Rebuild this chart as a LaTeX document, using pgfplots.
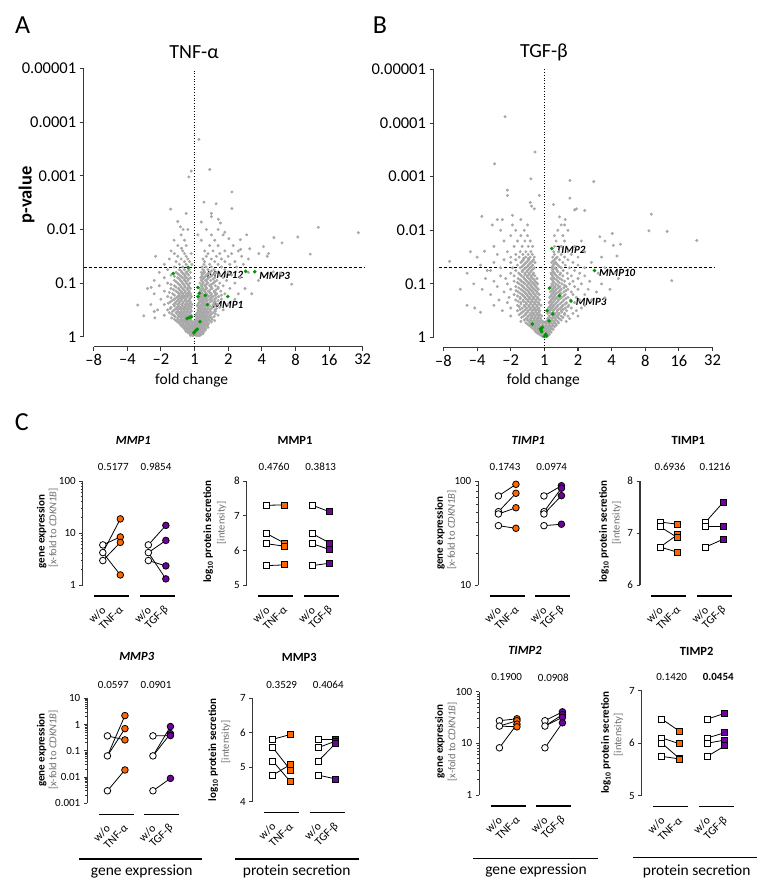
\documentclass[border=0pt]{standalone}
\usepackage{fontspec}
\setmainfont{Carlito}
\usepackage{pgfplots}
\pgfplotsset{compat=1.18}
\definecolor{vgray}{RGB}{168,168,168}
\definecolor{vgreen}{RGB}{0,150,0}
\definecolor{orng}{RGB}{255,102,0}
\definecolor{purp}{RGB}{112,0,160}
\definecolor{axc}{RGB}{55,55,55}
\definecolor{lgray}{RGB}{110,110,110}
\newcommand{\fs}[1]{\fontsize{#1}{#1}\selectfont}
\tikzset{xl/.style={rotate=45, anchor=east, font=\fs{11.5}, inner sep=0pt},
  ctr/.style={inner sep=0pt, anchor=center}}
\pgfplotsset{
 volcano/.style={scale only axis, width=269pt, height=268pt, xmin=-3, xmax=5, ymin=0, ymax=5,
  anchor=south west, clip=false,
  axis x line*=bottom, axis y line*=left, axis x line shift=10pt, axis y line shift=10pt,
  axis line style={axc, line width=1.3pt},
  tick align=outside, major tick length=4pt, tick style={axc, line width=1.1pt},
  xtick={-3,...,5}, xticklabels={--8,--4,--2,1,2,4,8,16,32},
  ytick={0,...,5}, yticklabels={1,0.1,0.01,0.001,0.0001,0.00001},
  tick label style={font=\fs{16.5}}},
 gdots/.style={only marks, mark=*, mark size=1.3pt, color=vgray},
 small/.style={scale only axis, width=95.4pt, height=104pt, xmin=-1.15, xmax=4.3,
  anchor=south west, clip=false, axis y line*=left, axis x line=none,
  axis line style={axc, line width=1.2pt},
  tick align=outside, major tick length=3.5pt, minor tick length=2pt,
  tick style={axc, line width=0.9pt}, xtick=\empty,
  tick label style={font=\fs{11}}},
 wo/.style={only marks, mark=*, mark size=3.3pt, mark options={fill=white, draw=black, line width=0.8pt}},
 tc/.style={only marks, mark=*, mark size=3.3pt, mark options={fill=orng, draw=black, line width=0.8pt}},
 gc/.style={only marks, mark=*, mark size=3.3pt, mark options={fill=purp, draw=black, line width=0.8pt}},
 wos/.style={only marks, mark=square*, mark size=3pt, mark options={fill=white, draw=black, line width=0.8pt}},
 ts/.style={only marks, mark=square*, mark size=3pt, mark options={fill=orng, draw=black, line width=0.8pt}},
 gs/.style={only marks, mark=square*, mark size=3pt, mark options={fill=purp, draw=black, line width=0.8pt}},
}
\newcommand{\seg}[4]{\addplot[black, line width=0.8pt] coordinates {(#1,#2) (#3,#4)};}
\newcommand{\grp}[1]{%
 \draw[black, line width=1.2pt] ([yshift=-11pt]axis cs:-0.5,#1) -- ([yshift=-11pt]axis cs:1.5,#1);
 \draw[black, line width=1.2pt] ([yshift=-11pt]axis cs:2.1,#1) -- ([yshift=-11pt]axis cs:4.1,#1);
 \node[xl] at ([shift={(1pt,-23pt)}]axis cs:0,#1) {w/o};
 \node[xl] at ([shift={(1pt,-23pt)}]axis cs:1,#1) {TNF-α};
 \node[xl] at ([shift={(1pt,-23pt)}]axis cs:2.6,#1) {w/o};
 \node[xl] at ([shift={(1pt,-23pt)}]axis cs:3.6,#1) {TGF-β};
}
\begin{document}
\begin{tikzpicture}[x=1pt,y=1pt]
\useasboundingbox (0,0) rectangle (775,892);
% panel letters
\node[ctr, font=\fs{26}] at (22.7,867) {A};
\node[ctr, font=\fs{26}] at (380,867) {B};
\node[ctr, font=\fs{26}] at (21.7,470.3) {C};
% ---------------- A ----------------
\begin{axis}[volcano, at={(93.7pt,555.3pt)}]
\addplot[gdots] coordinates {
(-0.05,0.02)(0.05,0.02)(0.1,0.02)(0.15,0.02)(-0.12,0.02)
(-0.15,0.06)(-0.08,0.06)(0.0,0.06)(0.08,0.06)(0.18,0.06)(0.25,0.06)
(-0.25,0.10)(-0.18,0.10)(-0.1,0.10)(-0.02,0.10)(0.06,0.10)(0.12,0.10)(0.2,0.10)(0.28,0.10)
(-0.3,0.15)(-0.22,0.15)(-0.14,0.15)(-0.06,0.15)(0.03,0.15)(0.1,0.15)(0.17,0.15)(0.24,0.15)(0.32,0.15)
(-0.38,0.20)(-0.3,0.20)(-0.2,0.20)(-0.12,0.20)(-0.04,0.20)(0.05,0.20)(0.13,0.20)(0.2,0.20)(0.28,0.20)(0.36,0.20)
(-0.45,0.25)(-0.35,0.25)(-0.25,0.25)(-0.17,0.25)(-0.08,0.25)(0.0,0.25)(0.08,0.25)(0.16,0.25)(0.24,0.25)(0.33,0.25)(0.42,0.25)
(-0.55,0.30)(-0.44,0.30)(-0.34,0.30)(-0.26,0.30)(-0.18,0.30)(-0.1,0.30)(0.02,0.30)(0.1,0.30)(0.18,0.30)(0.26,0.30)(0.35,0.30)(0.45,0.30)(0.6,0.30)
(-0.68,0.35)(-0.5,0.35)(-0.4,0.35)(-0.3,0.35)(-0.22,0.35)(-0.13,0.35)(0.06,0.35)(0.14,0.35)(0.22,0.35)(0.3,0.35)(0.38,0.35)(0.5,0.35)
(-0.9,0.40)(-0.62,0.40)(-0.48,0.40)(-0.38,0.40)(-0.28,0.40)(-0.2,0.40)(-0.1,0.40)(0.04,0.40)(0.12,0.40)(0.2,0.40)(0.28,0.40)(0.36,0.40)(0.46,0.40)(0.7,0.40)
(-0.75,0.45)(-0.55,0.45)(-0.45,0.45)(-0.35,0.45)(-0.25,0.45)(-0.15,0.45)(0.08,0.45)(0.16,0.45)(0.24,0.45)(0.32,0.45)(0.42,0.45)(0.55,0.45)
(-1.1,0.50)(-0.8,0.50)(-0.6,0.50)(-0.5,0.50)(-0.4,0.50)(-0.32,0.50)(-0.22,0.50)(-0.12,0.50)(0.1,0.50)(0.18,0.50)(0.27,0.50)(0.35,0.50)(0.45,0.50)(0.6,0.50)(0.85,0.50)
(-0.7,0.55)(-0.52,0.55)(-0.42,0.55)(-0.3,0.55)(-0.2,0.55)(-0.1,0.55)(0.12,0.55)(0.2,0.55)(0.3,0.55)(0.4,0.55)(0.52,0.55)(0.75,0.55)
(-1.3,0.60)(-0.9,0.60)(-0.62,0.60)(-0.5,0.60)(-0.38,0.60)(-0.28,0.60)(-0.18,0.60)(-0.08,0.60)(0.1,0.60)(0.2,0.60)(0.28,0.60)(0.4,0.60)(0.55,0.60)(0.68,0.60)(1.0,0.60)
(-0.72,0.65)(-0.55,0.65)(-0.44,0.65)(-0.33,0.65)(-0.22,0.65)(-0.12,0.65)(0.15,0.65)(0.24,0.65)(0.34,0.65)(0.48,0.65)(0.62,0.65)
(-1.0,0.70)(-0.6,0.70)(-0.48,0.70)(-0.38,0.70)(-0.27,0.70)(-0.15,0.70)(0.12,0.70)(0.22,0.70)(0.32,0.70)(0.45,0.70)(0.6,0.70)(0.8,0.70)(1.2,0.70)
(-0.8,0.75)(-0.5,0.75)(-0.4,0.75)(-0.3,0.75)(-0.2,0.75)(-0.1,0.75)(0.2,0.75)(0.3,0.75)(0.42,0.75)(0.55,0.75)(0.72,0.75)
(-1.2,0.80)(-0.65,0.80)(-0.45,0.80)(-0.34,0.80)(-0.22,0.80)(-0.12,0.80)(0.14,0.80)(0.24,0.80)(0.36,0.80)(0.5,0.80)(0.66,0.80)(0.9,0.80)(1.3,0.80)
(-0.9,0.85)(-0.55,0.85)(-0.4,0.85)(-0.28,0.85)(-0.16,0.85)(0.18,0.85)(0.28,0.85)(0.4,0.85)(0.58,0.85)(0.78,0.85)
(-1.4,0.90)(-0.7,0.90)(-0.48,0.90)(-0.35,0.90)(-0.22,0.90)(-0.12,0.90)(0.15,0.90)(0.25,0.90)(0.36,0.90)(0.52,0.90)(0.7,0.90)(1.05,0.90)(1.5,0.90)
(-1.05,0.95)(-0.6,0.95)(-0.42,0.95)(-0.3,0.95)(-0.18,0.95)(0.2,0.95)(0.3,0.95)(0.45,0.95)(0.62,0.95)(0.85,0.95)
(-0.8,1.00)(-0.5,1.00)(-0.36,1.00)(-0.24,1.00)(-0.14,1.00)(0.16,1.00)(0.26,1.00)(0.4,1.00)(0.56,1.00)(0.75,1.00)(1.2,1.00)
(-1.2,1.05)(-0.6,1.05)(-0.42,1.05)(-0.3,1.05)(-0.2,1.05)(0.2,1.05)(0.32,1.05)(0.48,1.05)(0.66,1.05)(0.95,1.05)
(-0.9,1.10)(-0.5,1.10)(-0.36,1.10)(-0.24,1.10)(-0.12,1.10)(0.18,1.10)(0.28,1.10)(0.42,1.10)(0.6,1.10)(0.85,1.10)(1.35,1.10)
(-0.7,1.15)(-0.45,1.15)(-0.3,1.15)(-0.18,1.15)(0.22,1.15)(0.35,1.15)(0.52,1.15)(0.75,1.15)(1.1,1.15)
(-1.05,1.20)(-0.55,1.20)(-0.38,1.20)(-0.25,1.20)(-0.12,1.20)(0.2,1.20)(0.3,1.20)(0.45,1.20)(0.65,1.20)(1.0,1.20)(1.6,1.20)
(-0.8,1.25)(-0.45,1.25)(-0.3,1.25)(-0.16,1.25)(0.25,1.25)(0.4,1.25)(0.58,1.25)(0.9,1.25)
(-0.6,1.30)(-0.35,1.30)(-0.2,1.30)(0.22,1.30)(0.34,1.30)(0.5,1.30)(0.8,1.30)(1.25,1.30)
(-0.9,1.35)(-0.45,1.35)(-0.25,1.35)(-0.08,1.35)(0.28,1.35)(0.45,1.35)(0.7,1.35)(1.05,1.35)(1.45,1.35)
(-0.55,1.40)(-0.3,1.40)(-0.15,1.40)(0.3,1.40)(0.6,1.40)(0.9,1.40)(1.2,1.40)
(-0.75,1.45)(-0.4,1.45)(-0.2,1.45)(0.25,1.45)(0.5,1.45)(0.8,1.45)(1.6,1.45)
(-1.16,1.50)(-0.5,1.50)(-0.25,1.50)(0.35,1.50)(0.65,1.50)(1.0,1.50)(1.4,1.50)(2.16,1.50)
(-0.6,1.55)(-0.3,1.55)(-0.1,1.55)(0.4,1.55)(0.75,1.55)(1.1,1.55)(1.91,1.55)
(-0.7,1.60)(-0.35,1.60)(0.3,1.60)(0.55,1.60)(0.9,1.60)(1.3,1.60)(1.64,1.64)
(-0.5,1.70)(-0.25,1.70)(0.45,1.70)(0.7,1.70)(1.15,1.70)(2.05,1.68)
(-0.61,1.80)(-0.3,1.80)(0.2,1.80)(0.6,1.80)(1.36,1.81)(1.02,1.83)
(-0.4,1.90)(0.1,1.90)(0.5,1.90)(0.85,1.90)
(-0.34,2.00)(-0.2,2.00)(0.35,2.00)(0.7,2.00)
(0.13,3.68)(-0.10,3.09)(-0.17,2.98)(0.45,3.12)(1.11,2.70)(0.28,2.51)(0.64,2.48)(-0.71,2.38)(1.11,2.39)
(0.50,2.30)(0.5,2.24)(0.71,2.19)(0.77,2.12)(0.2,2.14)(3.68,2.04)(4.87,1.94)(3.07,1.86)(2.36,1.85)(2.6,1.75)
(-0.42,2.05)(-0.39,1.65)(3.44,1.54)(1.37,1.63)(2.89,0.98)(-1.29,0.92)(-1.69,0.59)(-1.51,0.39)(-1.2,0.47)
(-1.18,0.35)(2.56,1.18)(2.34,1.21)(1.9,1.05)(1.7,0.8)(-0.5,2.15)(-0.25,2.3)(0.9,1.95)(1.55,1.9)(2.2,1.55)
};
\addplot[gdots] coordinates {
(-0.1,0.04)(0.02,0.04)(0.12,0.04)(0.2,0.04)
(-0.2,0.08)(-0.12,0.08)(-0.04,0.08)(0.04,0.08)(0.14,0.08)(0.22,0.08)
(-0.28,0.125)(-0.2,0.125)(-0.12,0.125)(-0.04,0.125)(0.04,0.125)(0.1,0.125)(0.16,0.125)(0.24,0.125)(0.32,0.125)
(-0.34,0.175)(-0.26,0.175)(-0.17,0.175)(-0.09,0.175)(0.0,0.175)(0.07,0.175)(0.15,0.175)(0.22,0.175)(0.3,0.175)(0.4,0.175)
(-0.42,0.225)(-0.34,0.225)(-0.25,0.225)(-0.16,0.225)(-0.08,0.225)(0.01,0.225)(0.09,0.225)(0.17,0.225)(0.25,0.225)(0.32,0.225)(0.4,0.225)
(-0.5,0.275)(-0.4,0.275)(-0.3,0.275)(-0.22,0.275)(-0.13,0.275)(-0.04,0.275)(0.05,0.275)(0.13,0.275)(0.21,0.275)(0.29,0.275)(0.38,0.275)(0.5,0.275)
(-0.6,0.325)(-0.49,0.325)(-0.39,0.325)(-0.3,0.325)(-0.21,0.325)(-0.13,0.325)(0.09,0.325)(0.16,0.325)(0.24,0.325)(0.33,0.325)(0.42,0.325)(0.52,0.325)
(-0.58,0.375)(-0.45,0.375)(-0.35,0.375)(-0.26,0.375)(-0.17,0.375)(-0.08,0.375)(0.1,0.375)(0.18,0.375)(0.26,0.375)(0.34,0.375)(0.44,0.375)(0.58,0.375)
(-0.68,0.425)(-0.52,0.425)(-0.42,0.425)(-0.32,0.425)(-0.23,0.425)(-0.14,0.425)(0.06,0.425)(0.14,0.425)(0.22,0.425)(0.3,0.425)(0.39,0.425)(0.5,0.425)(0.62,0.425)
(-0.65,0.475)(-0.5,0.475)(-0.4,0.475)(-0.3,0.475)(-0.2,0.475)(-0.1,0.475)(0.12,0.475)(0.2,0.475)(0.28,0.475)(0.37,0.475)(0.47,0.475)(0.62,0.475)
(-0.72,0.525)(-0.55,0.525)(-0.45,0.525)(-0.36,0.525)(-0.27,0.525)(-0.17,0.525)(0.14,0.525)(0.22,0.525)(0.31,0.525)(0.4,0.525)(0.5,0.525)(0.65,0.525)
(-0.6,0.575)(-0.47,0.575)(-0.36,0.575)(-0.25,0.575)(-0.15,0.575)(0.08,0.575)(0.16,0.575)(0.25,0.575)(0.34,0.575)(0.46,0.575)(0.6,0.575)
(-0.78,0.625)(-0.58,0.625)(-0.46,0.625)(-0.35,0.625)(-0.24,0.625)(-0.14,0.625)(0.12,0.625)(0.22,0.625)(0.3,0.625)(0.42,0.625)(0.58,0.625)
(-0.66,0.675)(-0.5,0.675)(-0.4,0.675)(-0.28,0.675)(-0.18,0.675)(0.18,0.675)(0.27,0.675)(0.38,0.675)(0.52,0.675)(0.7,0.675)
(-0.7,0.725)(-0.55,0.725)(-0.44,0.725)(-0.34,0.725)(-0.24,0.725)(-0.12,0.725)(0.16,0.725)(0.26,0.725)(0.36,0.725)(0.5,0.725)(0.64,0.725)
(-0.6,0.775)(-0.46,0.775)(-0.36,0.775)(-0.26,0.775)(-0.16,0.775)(0.18,0.775)(0.28,0.775)(0.38,0.775)(0.48,0.775)(0.62,0.775)(0.8,0.775)
(-0.75,0.825)(-0.5,0.825)(-0.38,0.825)(-0.28,0.825)(-0.18,0.825)(0.2,0.825)(0.32,0.825)(0.45,0.825)(0.6,0.825)
(-0.62,0.875)(-0.45,0.875)(-0.32,0.875)(-0.2,0.875)(0.22,0.875)(0.32,0.875)(0.46,0.875)(0.64,0.875)
(-0.55,0.925)(-0.4,0.925)(-0.28,0.925)(-0.16,0.925)(0.22,0.925)(0.34,0.925)(0.5,0.925)(0.7,0.925)
(-0.7,0.975)(-0.46,0.975)(-0.32,0.975)(-0.2,0.975)(0.22,0.975)(0.35,0.975)(0.5,0.975)
(-0.55,1.025)(-0.38,1.025)(-0.26,1.025)(0.24,1.025)(0.36,1.025)(0.6,1.025)
(-0.45,1.075)(-0.3,1.075)(-0.18,1.075)(0.24,1.075)(0.38,1.075)(0.55,1.075)
(-0.6,1.125)(-0.4,1.125)(-0.28,1.125)(0.22,1.125)(0.32,1.125)(0.48,1.125)
(-0.5,1.175)(-0.34,1.175)(-0.22,1.175)(0.26,1.175)(0.4,1.175)(0.6,1.175)
(-0.4,1.225)(-0.2,1.225)(0.28,1.225)(0.5,1.225)
};
\addplot[only marks, mark=*, mark size=1.6pt, color=vgreen] coordinates {
(-0.635,1.18)(-0.19,1.29)(1.52,1.22)(1.79,1.21)(0.10,0.92)(0.14,0.81)(0.10,0.75)(0.32,0.77)(0.99,0.75)
(0.38,0.60)(-0.22,0.34)(-0.15,0.36)(-0.10,0.37)(0.16,0.28)(0.0,0.09)(0.04,0.12)(0.08,0.14)(-0.02,0.07)
};
\draw[black, dotted, line width=0.7pt] (axis cs:0,-0.186) -- (axis cs:0,5);
\draw[black, dash pattern=on 3pt off 2pt, line width=0.8pt] (axis cs:-3.29,1.301) -- (axis cs:5.04,1.301);
\node[anchor=east, inner sep=0pt, font=\fs{11}\bfseries\itshape] at (axis cs:1.45,1.16) {MMP12};
\node[anchor=west, inner sep=0pt, font=\fs{11}\bfseries\itshape] at (axis cs:1.92,1.14) {MMP3};
\node[anchor=west, inner sep=0pt, font=\fs{11}\bfseries\itshape] at (axis cs:0.53,0.60) {MMP1};
\end{axis}
\node[ctr, font=\fs{20}] at (194,840) {TNF-α};
\node[ctr, font=\fs{18.5}\bfseries, rotate=90] at (26.7,697) {p-value};
\node[ctr, font=\fs{15.5}] at (191.7,512) {fold change};
% ---------------- B ----------------
\begin{axis}[volcano, at={(443.5pt,554.5pt)}]
\addplot[gdots] coordinates {
(-0.05,0.02)(0.02,0.02)(0.08,0.02)
(-0.15,0.06)(-0.08,0.06)(0.0,0.06)(0.1,0.06)(0.15,0.06)
(-0.25,0.10)(-0.15,0.10)(-0.05,0.10)(0.05,0.10)(0.12,0.10)(0.2,0.10)
(-0.3,0.15)(-0.2,0.15)(-0.12,0.15)(-0.02,0.15)(0.08,0.15)(0.18,0.15)(0.26,0.15)
(-0.4,0.20)(-0.3,0.20)(-0.2,0.20)(-0.1,0.20)(0.0,0.20)(0.1,0.20)(0.2,0.20)(0.3,0.20)
(-0.5,0.25)(-0.38,0.25)(-0.28,0.25)(-0.18,0.25)(-0.06,0.25)(0.05,0.25)(0.15,0.25)(0.25,0.25)(0.35,0.25)
(-0.7,0.30)(-0.45,0.30)(-0.35,0.30)(-0.25,0.30)(-0.15,0.30)(-0.05,0.30)(0.06,0.30)(0.18,0.30)(0.28,0.30)(0.4,0.30)(0.65,0.30)
(-0.55,0.35)(-0.42,0.35)(-0.32,0.35)(-0.22,0.35)(-0.12,0.35)(0.1,0.35)(0.22,0.35)(0.32,0.35)(0.45,0.35)(0.75,0.35)
(-1.0,0.40)(-0.62,0.40)(-0.48,0.40)(-0.38,0.40)(-0.28,0.40)(-0.18,0.40)(-0.08,0.40)(0.14,0.40)(0.26,0.40)(0.36,0.40)(0.5,0.40)(0.7,0.40)(1.0,0.40)
(-0.7,0.45)(-0.55,0.45)(-0.42,0.45)(-0.32,0.45)(-0.2,0.45)(0.1,0.45)(0.2,0.45)(0.32,0.45)(0.44,0.45)(0.6,0.45)(0.85,0.45)
(-1.25,0.50)(-0.8,0.50)(-0.6,0.50)(-0.48,0.50)(-0.36,0.50)(-0.26,0.50)(-0.14,0.50)(0.16,0.50)(0.26,0.50)(0.38,0.50)(0.5,0.50)(0.66,0.50)(0.95,0.50)
(-1.0,0.55)(-0.66,0.55)(-0.52,0.55)(-0.4,0.55)(-0.28,0.55)(-0.16,0.55)(0.12,0.55)(0.22,0.55)(0.34,0.55)(0.48,0.55)(0.62,0.55)(0.8,0.55)(1.1,0.55)
(-1.5,0.60)(-0.8,0.60)(-0.6,0.60)(-0.46,0.60)(-0.34,0.60)(-0.22,0.60)(-0.1,0.60)(0.18,0.60)(0.28,0.60)(0.4,0.60)(0.55,0.60)(0.72,0.60)(1.2,0.60)
(-1.1,0.65)(-0.7,0.65)(-0.55,0.65)(-0.42,0.65)(-0.3,0.65)(-0.18,0.65)(0.14,0.65)(0.24,0.65)(0.36,0.65)(0.5,0.65)(0.66,0.65)(0.9,0.65)
(-1.35,0.70)(-0.85,0.70)(-0.64,0.70)(-0.5,0.70)(-0.38,0.70)(-0.26,0.70)(-0.14,0.70)(0.2,0.70)(0.3,0.70)(0.42,0.70)(0.58,0.70)(0.78,0.70)(1.05,0.70)(1.4,0.70)
(-1.05,0.75)(-0.72,0.75)(-0.58,0.75)(-0.45,0.75)(-0.32,0.75)(-0.2,0.75)(0.16,0.75)(0.26,0.75)(0.38,0.75)(0.52,0.75)(0.7,0.75)(0.95,0.75)
(-1.6,0.80)(-0.9,0.80)(-0.66,0.80)(-0.52,0.80)(-0.4,0.80)(-0.28,0.80)(-0.15,0.80)(0.22,0.80)(0.32,0.80)(0.46,0.80)(0.62,0.80)(0.85,0.80)(1.2,0.80)
(-1.2,0.85)(-0.78,0.85)(-0.6,0.85)(-0.46,0.85)(-0.34,0.85)(-0.22,0.85)(0.18,0.85)(0.28,0.85)(0.42,0.85)(0.58,0.85)(0.8,0.85)(1.55,0.85)
(-1.85,0.90)(-1.0,0.90)(-0.7,0.90)(-0.55,0.90)(-0.42,0.90)(-0.3,0.90)(-0.18,0.90)(0.24,0.90)(0.36,0.90)(0.5,0.90)(0.7,0.90)(1.0,0.90)(1.3,0.90)
(-1.4,0.95)(-0.85,0.95)(-0.64,0.95)(-0.5,0.95)(-0.38,0.95)(-0.25,0.95)(0.2,0.95)(0.32,0.95)(0.46,0.95)(0.65,0.95)(0.9,0.95)
(-2.1,1.00)(-1.1,1.00)(-0.75,1.00)(-0.58,1.00)(-0.45,1.00)(-0.32,1.00)(-0.2,1.00)(0.22,1.00)(0.34,1.00)(0.52,1.00)(0.75,1.00)(1.1,1.00)(1.7,1.00)
(-1.5,1.05)(-0.9,1.05)(-0.68,1.05)(-0.52,1.05)(-0.4,1.05)(-0.28,1.05)(0.26,1.05)(0.4,1.05)(0.6,1.05)(0.85,1.05)(1.35,1.05)
(-1.75,1.10)(-1.15,1.10)(-0.78,1.10)(-0.6,1.10)(-0.46,1.10)(-0.34,1.10)(-0.22,1.10)(0.2,1.10)(0.3,1.10)(0.46,1.10)(0.7,1.10)(1.0,1.10)(2.2,1.10)
(-1.3,1.15)(-0.9,1.15)(-0.68,1.15)(-0.52,1.15)(-0.4,1.15)(-0.28,1.15)(0.24,1.15)(0.36,1.15)(0.55,1.15)(0.8,1.15)(1.2,1.15)
(-2.3,1.20)(-1.0,1.20)(-0.76,1.20)(-0.58,1.20)(-0.45,1.20)(-0.32,1.20)(0.2,1.20)(0.3,1.20)(0.48,1.20)(0.68,1.20)(1.05,1.20)(1.6,1.20)
(-1.6,1.25)(-0.85,1.25)(-0.65,1.25)(-0.5,1.25)(-0.38,1.25)(0.24,1.25)(0.38,1.25)(0.56,1.25)(0.9,1.25)
(-1.3,1.30)(-0.95,1.30)(-0.72,1.30)(-0.56,1.30)(-0.42,1.30)(-0.3,1.30)(0.22,1.30)(0.32,1.30)(0.5,1.30)(0.75,1.30)(1.2,1.30)(1.8,1.30)
(-1.9,1.35)(-0.8,1.35)(-0.62,1.35)(-0.48,1.35)(-0.35,1.35)(0.26,1.35)(0.4,1.35)(0.62,1.35)(1.0,1.35)
(-1.5,1.40)(-1.0,1.40)(-0.7,1.40)(-0.54,1.40)(-0.4,1.40)(-0.28,1.40)(0.22,1.40)(0.34,1.40)(0.55,1.40)(0.85,1.40)(1.4,1.40)
(-1.2,1.45)(-0.85,1.45)(-0.62,1.45)(-0.46,1.45)(-0.32,1.45)(0.3,1.45)(0.45,1.45)(0.7,1.45)
(-2.0,1.50)(-1.0,1.50)(-0.75,1.50)(-0.56,1.50)(-0.42,1.50)(-0.3,1.50)(0.25,1.50)(0.38,1.50)(0.6,1.50)(1.0,1.50)(1.7,1.50)
(-1.4,1.55)(-0.85,1.55)(-0.64,1.55)(-0.48,1.55)(-0.36,1.55)(0.3,1.55)(0.5,1.55)(0.8,1.55)
(-1.1,1.60)(-0.72,1.60)(-0.55,1.60)(-0.4,1.60)(0.28,1.60)(0.42,1.60)(0.7,1.60)(1.2,1.60)
(-1.5,1.70)(-0.9,1.70)(-0.66,1.70)(-0.48,1.70)(-0.35,1.70)(0.3,1.70)(0.5,1.70)(0.9,1.70)
(-1.2,1.80)(-0.8,1.80)(-0.58,1.80)(-0.42,1.80)(0.35,1.80)(0.6,1.80)(1.1,1.80)
(-1.0,1.90)(-0.7,1.90)(-0.5,1.90)(0.3,1.90)(0.55,1.90)
(-1.3,2.00)(-0.85,2.00)(-0.6,2.00)(0.4,2.00)(0.7,2.00)
(-0.95,2.10)(-0.5,2.10)(0.5,2.10)
(-1.4,2.20)(-0.7,2.20)(0.62,2.20)
(-1.17,4.12)(-0.28,3.46)(-1.48,3.24)(-0.40,2.96)(0.76,2.93)(1.47,2.91)(-1.10,2.75)(-1.10,2.65)(0.76,2.60)
(-0.42,2.52)(-0.38,2.45)(0.27,2.48)(-1.86,2.26)(3.18,2.30)(0.9,2.38)(0.95,2.4)(1.2,2.37)(3.11,1.99)(3.65,1.98)
(4.53,1.81)(2.02,1.94)(2.26,1.74)(2.05,1.72)(-1.78,1.61)(-2.82,1.42)(3.79,1.06)(-2.07,0.55)(-1.9,0.47)(-2.3,0.6)
(-1.55,2.1)(-1.25,2.2)(-0.95,2.28)(2.16,1.52)(1.65,1.88)(1.8,1.8)(2.1,1.2)(1.95,0.9)(1.8,0.74)(-2.5,0.9)
(-1.7,1.25)(-2.2,1.6)(-0.3,2.4)(0.45,2.25)(0.6,2.1)(-0.15,2.65)
};
\addplot[gdots] coordinates {
(-0.1,0.04)(0.05,0.04)(0.12,0.04)
(-0.2,0.08)(-0.12,0.08)(-0.04,0.08)(0.05,0.08)
(-0.28,0.125)(-0.2,0.125)(-0.1,0.125)(0.0,0.125)(0.08,0.125)(0.16,0.125)
(-0.36,0.175)(-0.26,0.175)(-0.16,0.175)(-0.07,0.175)(0.03,0.175)(0.13,0.175)(0.22,0.175)
(-0.45,0.225)(-0.35,0.225)(-0.25,0.225)(-0.15,0.225)(-0.05,0.225)(0.05,0.225)(0.15,0.225)(0.25,0.225)(0.35,0.225)
(-0.55,0.275)(-0.42,0.275)(-0.32,0.275)(-0.22,0.275)(-0.12,0.275)(0.0,0.275)(0.1,0.275)(0.2,0.275)(0.3,0.275)(0.42,0.275)
(-0.6,0.325)(-0.5,0.325)(-0.4,0.325)(-0.3,0.325)(-0.2,0.325)(-0.1,0.325)(0.12,0.325)(0.23,0.325)(0.34,0.325)(0.5,0.325)
(-0.68,0.375)(-0.5,0.375)(-0.37,0.375)(-0.27,0.375)(-0.17,0.375)(0.16,0.375)(0.28,0.375)(0.4,0.375)(0.55,0.375)
(-0.75,0.425)(-0.56,0.425)(-0.43,0.425)(-0.33,0.425)(-0.23,0.425)(-0.13,0.425)(0.2,0.425)(0.3,0.425)(0.42,0.425)(0.6,0.425)
(-0.65,0.475)(-0.5,0.475)(-0.37,0.475)(-0.26,0.475)(-0.16,0.475)(0.15,0.475)(0.26,0.475)(0.38,0.475)(0.52,0.475)
(-0.72,0.525)(-0.55,0.525)(-0.43,0.525)(-0.32,0.525)(-0.2,0.525)(0.2,0.525)(0.3,0.525)(0.42,0.525)(0.56,0.525)
(-0.75,0.575)(-0.58,0.575)(-0.46,0.575)(-0.34,0.575)(-0.22,0.575)(0.16,0.575)(0.26,0.575)(0.38,0.575)(0.52,0.575)(0.7,0.575)
(-0.7,0.625)(-0.53,0.625)(-0.4,0.625)(-0.28,0.625)(-0.16,0.625)(0.22,0.625)(0.32,0.625)(0.46,0.625)(0.62,0.625)
(-0.78,0.675)(-0.62,0.675)(-0.48,0.675)(-0.36,0.675)(-0.24,0.675)(0.18,0.675)(0.28,0.675)(0.4,0.675)(0.55,0.675)
(-0.72,0.725)(-0.56,0.725)(-0.44,0.725)(-0.32,0.725)(-0.2,0.725)(0.24,0.725)(0.34,0.725)(0.48,0.725)(0.64,0.725)
(-0.8,0.775)(-0.62,0.775)(-0.5,0.775)(-0.38,0.775)(-0.26,0.775)(0.2,0.775)(0.3,0.775)(0.42,0.775)(0.58,0.775)
(-0.72,0.825)(-0.56,0.825)(-0.44,0.825)(-0.32,0.825)(-0.2,0.825)(0.26,0.825)(0.36,0.825)(0.5,0.825)
(-0.84,0.875)(-0.65,0.875)(-0.5,0.875)(-0.38,0.875)(-0.26,0.875)(0.22,0.875)(0.32,0.875)(0.46,0.875)(0.64,0.875)
(-0.76,0.925)(-0.6,0.925)(-0.46,0.925)(-0.34,0.925)(-0.22,0.925)(0.28,0.925)(0.42,0.925)(0.58,0.925)
(-0.68,0.975)(-0.52,0.975)(-0.4,0.975)(-0.28,0.975)(0.26,0.975)(0.4,0.975)(0.6,0.975)
(-0.8,1.025)(-0.62,1.025)(-0.48,1.025)(-0.36,1.025)(-0.24,1.025)(0.28,1.025)(0.44,1.025)
(-0.72,1.075)(-0.56,1.075)(-0.42,1.075)(-0.3,1.075)(0.24,1.075)(0.36,1.075)(0.52,1.075)
(-0.62,1.125)(-0.5,1.125)(-0.38,1.125)(0.26,1.125)(0.4,1.125)
(-0.72,1.175)(-0.58,1.175)(-0.46,1.175)(-0.34,1.175)(0.22,1.175)(0.32,1.175)(0.46,1.175)
(-0.66,1.225)(-0.52,1.225)(-0.4,1.225)(0.26,1.225)(0.4,1.225)
(-0.6,1.275)(-0.46,1.275)(-0.34,1.275)(0.26,1.275)(0.36,1.275)
(-0.66,1.325)(-0.5,1.325)(-0.38,1.325)(0.24,1.325)(0.44,1.325)
(-0.58,1.375)(-0.44,1.375)(0.3,1.375)(0.36,1.375)
(-0.66,1.425)(-0.5,1.425)(-0.36,1.425)(0.26,1.425)
(-0.62,1.475)(-0.48,1.475)(0.34,1.475)
};
\addplot[only marks, mark=*, mark size=1.6pt, color=vgreen] coordinates {
(0.22,1.66)(1.49,1.25)(0.15,0.92)(0.45,0.78)(0.79,0.68)(0.08,0.50)(0.25,0.44)(0.14,0.31)(-0.36,0.25)
(-0.06,0.19)(-0.10,0.14)(-0.08,0.11)(-0.12,0.16)(0.04,0.06)(0.06,0.03)(0.0,0.02)
};
\draw[black, dotted, line width=0.7pt] (axis cs:0,-0.2) -- (axis cs:0,5);
\draw[black, dash pattern=on 3pt off 2pt, line width=0.8pt] (axis cs:-3.14,1.31) -- (axis cs:5.06,1.31);
\node[anchor=west, inner sep=0pt, font=\fs{11}\bfseries\itshape] at (axis cs:0.34,1.64) {TIMP2};
\node[anchor=west, inner sep=0pt, font=\fs{11}\bfseries\itshape] at (axis cs:1.62,1.21) {MMP10};
\node[anchor=west, inner sep=0pt, font=\fs{11}\bfseries\itshape] at (axis cs:0.93,0.67) {MMP3};
\end{axis}
\node[ctr, font=\fs{20}] at (544,840) {TGF-β};
\node[ctr, font=\fs{15.5}] at (543.3,512) {fold change};
% ---------------- C titles & p-values ----------------
\node[ctr, font=\fs{12.5}\bfseries\itshape] at (133.3,452) {MMP1};
\node[ctr, font=\fs{12.5}\bfseries] at (295,452) {MMP1};
\node[ctr, font=\fs{12.5}\bfseries\itshape] at (528.3,452) {TIMP1};
\node[ctr, font=\fs{12.5}\bfseries] at (688.3,452) {TIMP1};
\node[ctr, font=\fs{12.5}\bfseries\itshape] at (136.7,235.3) {MMP3};
\node[ctr, font=\fs{12.5}\bfseries] at (299.3,234.7) {MMP3};
\node[ctr, font=\fs{12.5}\bfseries\itshape] at (525,241.3) {TIMP2};
\node[ctr, font=\fs{12.5}\bfseries] at (696.7,240.3) {TIMP2};
\foreach \x/\t in {113.3/0.5177,156/0.9854,274/0.4760,320.7/0.3813,505/0.1743,551.7/0.0974,670/0.6936,715/0.1216}
  \node[ctr, font=\fs{11}] at (\x,425) {\t};
\foreach \x/\t in {113.3/0.0597,156/0.0901,281.7/0.3529,328.3/0.4064}
  \node[ctr, font=\fs{11}] at (\x,207) {\t};
\node[ctr, font=\fs{11}] at (506.7,214.7) {0.1900};
\node[ctr, font=\fs{11}] at (553.3,214.7) {0.0908};
\node[ctr, font=\fs{11}] at (671.7,214.7) {0.1420};
\node[ctr, font=\fs{11}\bfseries] at (718.3,214.7) {0.0454};
% y labels
\foreach \bx/\gx/\y/\gy in {41.7/53.3/360.3/364, 440/451.7/359/362, 41.7/53.3/142/142, 440/452.3/150.3/150.3}{
  \node[ctr, rotate=90, font=\fs{11}\bfseries] at (\bx,\y) {gene expression};
  \node[ctr, rotate=90, font=\fs{10.5}, text=lgray] at (\gx,\gy) {[x-fold to \textit{CDKN1B}]};
}
\foreach \bx/\gx/\y/\gy in {208.3/221.7/360.3/369, 604/616.7/360.3/369, 213.3/226/142/150, 606/618.3/149.3/157}{
  \node[ctr, rotate=90, font=\fs{11}\bfseries] at (\bx,\y) {log\textsubscript{10} protein secretion};
  \node[ctr, rotate=90, font=\fs{10.5}, text=lgray] at (\gx,\gy) {[intensity]};
}
% brackets
\draw[black, line width=1.2pt] (79,33) -- (202,33);
\draw[black, line width=1.2pt] (235,33) -- (359.3,33);
\draw[black, line width=1.2pt] (473.3,33.5) -- (597.7,33.5);
\draw[black, line width=1.2pt] (633.3,34.5) -- (756.7,34.5);
\node[ctr, font=\fs{15.5}] at (141.7,20.3) {gene expression};
\node[ctr, font=\fs{15.5}] at (296.7,20.3) {protein secretion};
\node[ctr, font=\fs{15.5}] at (536,21) {gene expression};
\node[ctr, font=\fs{15.5}] at (696.7,21) {protein secretion};
% ---------------- MMP1 gene ----------------
\begin{axis}[small, at={(82.7pt,307pt)}, ymode=log, ymin=1, ymax=100, ytick={1,10,100}, yticklabels={1,10,100},
  minor ytick={2,3,4,5,6,7,8,9,20,30,40,50,60,70,80,90}]
\seg{0}{4.2}{1}{18.7}\seg{0}{5.9}{1}{8.4}\seg{0}{2.95}{1}{6.6}\seg{0}{4.2}{1}{1.56}
\seg{2.6}{5.9}{3.6}{14.0}\seg{2.6}{4.2}{3.6}{7.2}\seg{2.6}{2.95}{3.6}{2.33}\seg{2.6}{4.2}{3.6}{1.31}
\addplot[wo] coordinates {(0,5.9)(0,4.2)(0,2.95)(2.6,5.9)(2.6,4.2)(2.6,2.95)};
\addplot[tc] coordinates {(1,18.7)(1,8.4)(1,6.6)(1,1.56)};
\addplot[gc] coordinates {(3.6,14.0)(3.6,7.2)(3.6,2.33)(3.6,1.31)};
\grp{1}
\end{axis}
% ---------------- MMP1 protein ----------------
\begin{axis}[small, at={(246.7pt,307pt)}, ymin=5, ymax=8, ytick={5,6,7,8}, yticklabels={5,6,7,8}]
\seg{0}{7.30}{1}{7.31}\seg{0}{6.48}{1}{6.21}\seg{0}{6.19}{1}{6.12}\seg{0}{5.56}{1}{5.58}
\seg{2.6}{7.30}{3.6}{7.11}\seg{2.6}{6.48}{3.6}{6.21}\seg{2.6}{6.19}{3.6}{6.02}\seg{2.6}{5.56}{3.6}{5.63}
\addplot[wos] coordinates {(0,7.30)(0,6.48)(0,6.19)(0,5.56)(2.6,7.30)(2.6,6.48)(2.6,6.19)(2.6,5.56)};
\addplot[ts] coordinates {(1,7.31)(1,6.21)(1,6.12)(1,5.58)};
\addplot[gs] coordinates {(3.6,7.11)(3.6,6.21)(3.6,6.02)(3.6,5.63)};
\grp{5}
\end{axis}
% ---------------- TIMP1 gene ----------------
\begin{axis}[small, at={(478.3pt,307pt)}, ymode=log, ymin=10, ymax=100, ytick={10,100}, yticklabels={10,100},
  minor ytick={20,30,40,50,60,70,80,90}]
\seg{0}{71.8}{1}{92.9}\seg{0}{50.7}{1}{76.2}\seg{0}{48.2}{1}{55.3}\seg{0}{37.2}{1}{35.1}
\seg{2.6}{71.8}{3.6}{90.1}\seg{2.6}{50.7}{3.6}{85.2}\seg{2.6}{48.2}{3.6}{72.3}\seg{2.6}{37.2}{3.6}{38.4}
\addplot[wo] coordinates {(0,71.8)(0,50.7)(0,48.2)(0,37.2)(2.6,71.8)(2.6,50.7)(2.6,48.2)(2.6,37.2)};
\addplot[tc] coordinates {(1,92.9)(1,76.2)(1,55.3)(1,35.1)};
\addplot[gc] coordinates {(3.6,90.1)(3.6,85.2)(3.6,72.3)(3.6,38.4)};
\grp{10}
\end{axis}
% ---------------- TIMP1 protein ----------------
\begin{axis}[small, at={(640pt,307pt)}, ymin=6, ymax=8, ytick={6,7,8}, yticklabels={6,7,8}]
\seg{0}{7.21}{1}{7.17}\seg{0}{7.12}{1}{6.91}\seg{0}{6.73}{1}{6.97}\seg{0}{6.73}{1}{6.63}
\seg{2.6}{7.21}{3.6}{7.59}\seg{2.6}{7.12}{3.6}{7.12}\seg{2.6}{6.73}{3.6}{6.88}
\addplot[wos] coordinates {(0,7.21)(0,7.12)(0,6.73)(2.6,7.21)(2.6,7.12)(2.6,6.73)};
\addplot[ts] coordinates {(1,7.17)(1,6.97)(1,6.91)(1,6.63)};
\addplot[gs] coordinates {(3.6,7.59)(3.6,7.12)(3.6,6.88)};
\grp{6}
\end{axis}
% ---------------- MMP3 gene ----------------
\begin{axis}[small, at={(87.3pt,88.7pt)}, height=105pt, ymode=log, ymin=0.001, ymax=10,
  ytick={0.001,0.01,0.1,1,10}, yticklabels={0.001,0.01,0.1,1,10}]
\seg{0}{0.37}{1}{0.26}\seg{0}{0.064}{1}{2.2}\seg{0}{0.064}{1}{0.70}\seg{0}{0.003}{1}{0.0186}
\seg{2.6}{0.37}{3.6}{0.38}\seg{2.6}{0.064}{3.6}{0.84}\seg{2.6}{0.064}{3.6}{0.45}\seg{2.6}{0.003}{3.6}{0.0089}
\addplot[wo] coordinates {(0,0.37)(0,0.064)(0,0.003)(2.6,0.37)(2.6,0.064)(2.6,0.003)};
\addplot[tc] coordinates {(1,2.2)(1,0.70)(1,0.26)(1,0.0186)};
\addplot[gc] coordinates {(3.6,0.84)(3.6,0.45)(3.6,0.38)(3.6,0.0089)};
\grp{0.001}
\end{axis}
% ---------------- MMP3 protein ----------------
\begin{axis}[small, at={(252.7pt,90.3pt)}, height=103.4pt, ymin=4, ymax=7, ytick={4,5,6,7}, yticklabels={4,5,6,7}]
\seg{0}{5.81}{1}{5.95}\seg{0}{5.57}{1}{4.92}\seg{0}{5.18}{1}{4.58}\seg{0}{4.77}{1}{5.08}
\seg{2.6}{5.81}{3.6}{5.81}\seg{2.6}{5.57}{3.6}{5.76}\seg{2.6}{5.18}{3.6}{5.70}\seg{2.6}{4.77}{3.6}{4.66}
\addplot[wos] coordinates {(0,5.81)(0,5.57)(0,5.18)(0,4.77)(2.6,5.81)(2.6,5.57)(2.6,5.18)(2.6,4.77)};
\addplot[ts] coordinates {(1,5.95)(1,5.08)(1,4.92)(1,4.58)};
\addplot[gs] coordinates {(3.6,5.81)(3.6,5.76)(3.6,5.70)(3.6,4.66)};
\grp{4}
\end{axis}
% ---------------- TIMP2 gene ----------------
\begin{axis}[small, at={(479.3pt,97pt)}, height=103.3pt, ymode=log, ymin=1, ymax=100, ytick={1,10,100}, yticklabels={1,10,100},
  minor ytick={2,3,4,5,6,7,8,9,20,30,40,50,60,70,80,90}]
\seg{0}{27.4}{1}{29.9}\seg{0}{21.6}{1}{27.4}\seg{0}{21.6}{1}{20.9}\seg{0}{8.2}{1}{23.5}
\seg{2.6}{27.4}{3.6}{40.8}\seg{2.6}{21.6}{3.6}{32}\seg{2.6}{21.6}{3.6}{36}\seg{2.6}{8.2}{3.6}{25}
\addplot[wo] coordinates {(0,27.4)(0,21.6)(0,8.2)(2.6,27.4)(2.6,21.6)(2.6,8.2)};
\addplot[tc] coordinates {(1,29.9)(1,27.4)(1,23.5)(1,20.9)};
\addplot[gc] coordinates {(3.6,40.8)(3.6,36)(3.6,32)(3.6,25)};
\grp{1}
\end{axis}
% ---------------- TIMP2 protein ----------------
\begin{axis}[small, at={(641.7pt,96.3pt)}, height=105pt, ymin=5, ymax=7, ytick={5,6,7}, yticklabels={5,6,7}]
\seg{0}{6.46}{1}{6.23}\seg{0}{6.10}{1}{5.99}\seg{0}{6.0}{1}{5.71}\seg{0}{5.75}{1}{5.70}
\seg{2.6}{6.46}{3.6}{6.57}\seg{2.6}{6.10}{3.6}{6.20}\seg{2.6}{6.0}{3.6}{6.06}\seg{2.6}{5.75}{3.6}{5.95}
\addplot[wos] coordinates {(0,6.46)(0,6.10)(0,6.0)(0,5.75)(2.6,6.46)(2.6,6.10)(2.6,6.0)(2.6,5.75)};
\addplot[ts] coordinates {(1,6.23)(1,5.99)(1,5.71)(1,5.70)};
\addplot[gs] coordinates {(3.6,6.57)(3.6,6.20)(3.6,6.06)(3.6,5.95)};
\grp{5}
\end{axis}
\end{tikzpicture}
\end{document}
